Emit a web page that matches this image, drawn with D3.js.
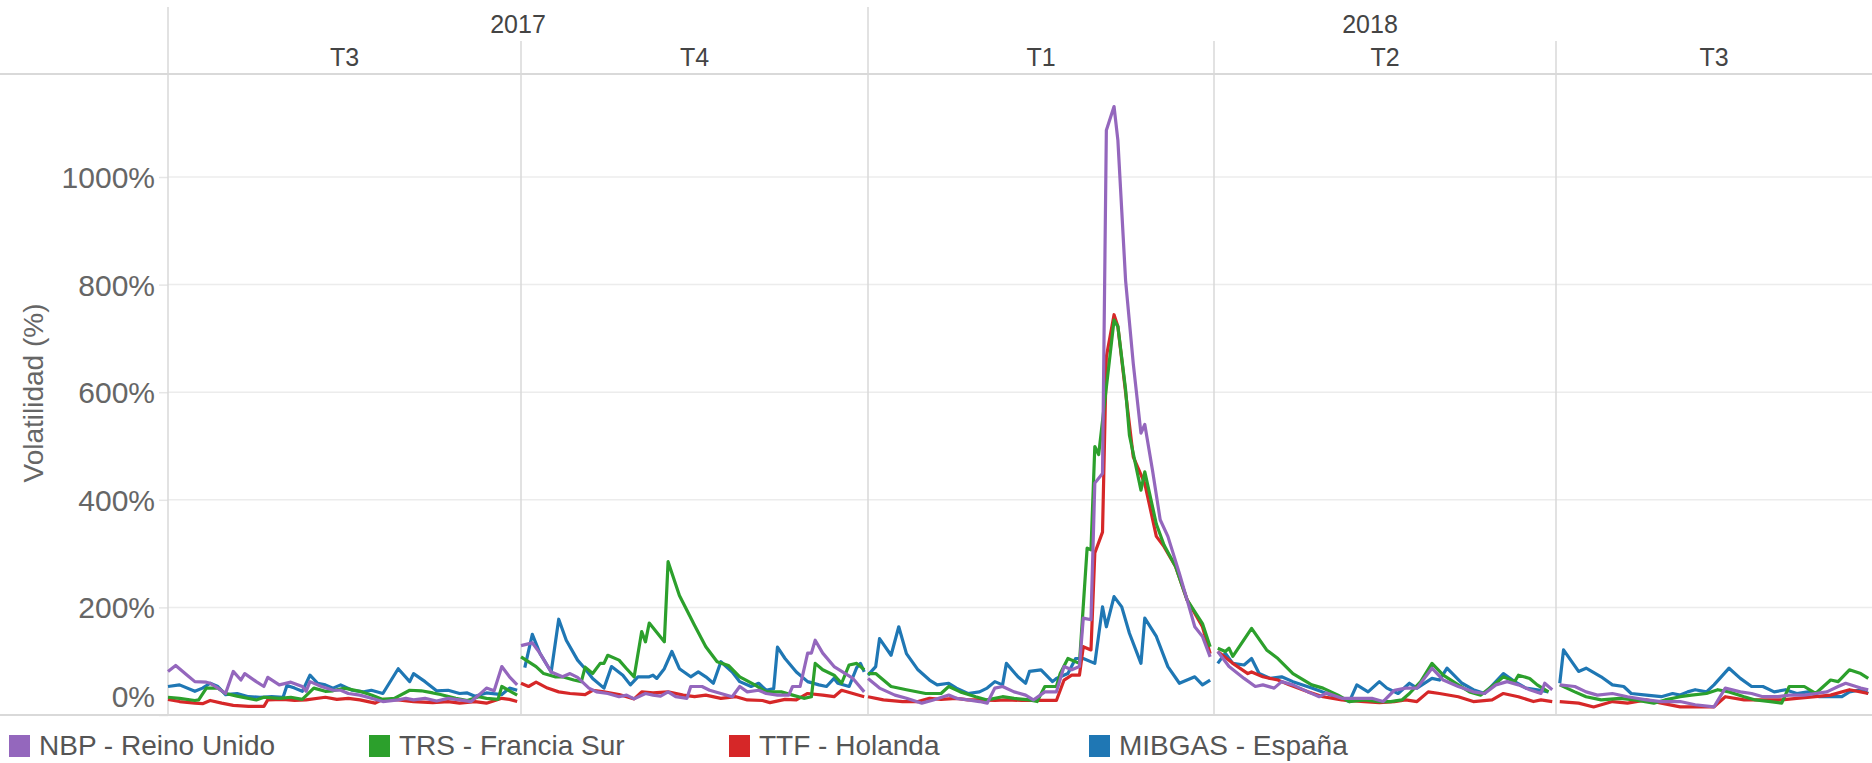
<!DOCTYPE html>
<html>
<head>
<meta charset="utf-8">
<script src="https://cdn.jsdelivr.net/npm/d3@7"></script>
<style>
  body { margin: 0; background: #fff; }
  svg { display: block; }
  text { font-family: "Liberation Sans", Arial, sans-serif; }
</style>
</head>
<body>
<div id="chart"></div>
<script>
// series names, colours and header labels
const seriesNames = ["NBP - Reino Unido", "TRS - Francia Sur", "TTF - Holanda", "MIBGAS - España"];
const seriesColors = ["#9467bd", "#2ca02c", "#d62728", "#1f77b4"];
const years = ["2017", "2018"];
const quarters = ["T3", "T4", "T1", "T2", "T3"];
const quarterStarts = ["2017-07-01", "2017-10-01", "2018-01-01", "2018-04-01", "2018-07-01"];
const lastDay = "2018-09-23";
const yTicks = [0, 200, 400, 600, 800, 1000];

// [days since 1 jul 2017, volatilidad %]
const nbp = [
  [0,81],[2,92],[5,74],[7,62],[10,61],[11,59],[13,50],[15,40],[17,81],[19,65],[20,77],[23,62],[25,53],[26,70],[29,56],[32,61],[35,53],[36,44],[37,62],[40,53],[43,46],[45,46],[47,40],[50,37],[53,31],[56,25],[60,28],[62,31],[64,28],[67,31],[70,26],[73,31],[76,28],[79,25],[81,37],[83,50],[85,45],[87,90],[89,71],[91,56],
  [92,129],[95,134],[97,115],[100,80],[103,71],[105,77],[107,70],[110,50],[112,43],[115,40],[118,34],[120,37],[122,30],[125,40],[127,37],[129,35],[131,43],[133,34],[136,31],[137,53],[140,53],[142,46],[145,40],[148,34],[150,53],[152,43],[155,46],[157,40],[160,37],[163,37],[164,53],[166,53],[168,115],[169,115],[170,139],[172,115],[175,90],[178,77],[180,68],[183,43],
  [184,68],[187,50],[191,37],[194,31],[198,22],[201,28],[205,37],[207,31],[210,28],[213,25],[215,22],[217,50],[219,53],[222,43],[225,37],[227,28],[230,43],[233,43],[235,90],[237,84],[239,90],[240,180],[242,177],[243,431],[245,449],[246,1087],[248,1131],[249,1068],[251,808],[253,653],[255,524],[256,540],[258,455],[260,363],[262,332],[265,263],[267,214],[269,164],[271,146],[273,108],
  [275,118],[278,90],[282,68],[285,53],[287,56],[290,50],[292,62],[295,56],[299,43],[302,34],[304,41],[308,31],[313,31],[316,31],[319,25],[322,46],[325,50],[328,50],[332,87],[335,65],[339,53],[343,43],[346,40],[349,56],[352,62],[355,56],[358,47],[361,40],[362,59],[364,47],
  [366,56],[370,53],[373,43],[376,37],[380,40],[384,34],[389,28],[393,25],[398,25],[402,19],[407,15],[410,50],[414,43],[417,40],[420,34],[424,34],[427,37],[431,37],[434,40],[437,43],[440,53],[442,59],[446,50],[448,47]
];
const trs = [
  [0,33],[3,31],[7,27],[8,28],[10,50],[13,50],[15,40],[18,35],[23,28],[25,33],[29,31],[32,33],[35,29],[38,50],[41,44],[43,45],[46,50],[50,44],[53,37],[56,29],[59,31],[63,46],[66,45],[69,41],[71,38],[75,31],[78,27],[81,34],[83,31],[86,29],[87,53],[89,45],[91,37],
  [92,108],[96,90],[98,77],[101,71],[103,71],[106,65],[108,62],[109,89],[111,77],[113,96],[114,96],[115,111],[118,102],[120,86],[122,71],[124,155],[125,136],[126,171],[130,136],[131,285],[134,222],[138,167],[141,127],[144,99],[147,92],[150,71],[154,56],[157,43],[161,43],[164,37],[167,31],[169,34],[170,96],[172,84],[175,74],[177,59],[179,93],[181,96],[183,84],
  [184,77],[186,77],[190,53],[194,47],[199,40],[203,40],[205,53],[208,43],[212,34],[215,28],[219,34],[222,31],[226,28],[228,25],[230,53],[233,53],[234,77],[236,105],[239,96],[241,310],[242,307],[243,499],[244,484],[248,734],[249,722],[251,605],[252,520],[255,418],[256,452],[259,355],[261,316],[264,276],[267,214],[271,170],[273,127],
  [275,124],[277,118],[278,124],[279,109],[284,161],[288,121],[291,105],[295,77],[300,56],[303,50],[307,37],[310,25],[314,28],[318,25],[321,25],[324,28],[326,40],[329,62],[332,96],[335,74],[339,56],[342,43],[345,37],[349,59],[351,71],[354,62],[355,74],[358,68],[360,56],[363,43],
  [366,56],[370,43],[373,34],[377,28],[382,31],[386,28],[391,22],[394,28],[398,34],[401,37],[405,40],[408,47],[411,43],[415,34],[418,28],[422,25],[425,22],[427,53],[431,53],[434,40],[438,65],[440,62],[443,84],[446,77],[448,68]
];
const ttf = [
  [0,29],[3,25],[7,22],[9,21],[11,27],[14,22],[17,18],[21,16],[25,16],[26,28],[30,29],[33,27],[36,28],[41,33],[44,29],[47,31],[50,28],[54,22],[56,29],[60,28],[64,25],[69,23],[73,25],[76,22],[80,25],[83,22],[87,31],[89,29],[91,25],
  [92,59],[94,53],[96,61],[99,50],[102,43],[105,40],[109,38],[111,46],[114,43],[118,38],[122,30],[124,43],[127,41],[131,43],[135,37],[138,34],[141,37],[145,31],[149,34],[152,28],[156,27],[158,23],[162,29],[165,28],[168,40],[172,37],[175,34],[177,46],[180,40],[183,34],
  [184,34],[188,28],[193,25],[197,25],[200,31],[203,29],[207,31],[210,28],[213,28],[217,27],[220,28],[224,27],[229,27],[233,27],[235,65],[237,74],[239,74],[240,127],[242,121],[243,301],[245,340],[246,666],[248,744],[249,722],[251,600],[253,480],[256,430],[259,332],[261,313],[264,276],[267,214],[271,164],[273,114],
  [275,118],[279,96],[283,77],[284,80],[287,71],[291,65],[294,56],[299,43],[303,34],[308,28],[314,25],[318,23],[322,25],[325,28],[328,25],[331,43],[334,40],[339,34],[343,25],[348,28],[351,40],[355,34],[359,25],[361,28],[364,25],
  [366,25],[371,22],[375,15],[380,25],[384,22],[389,28],[393,22],[398,15],[402,15],[407,15],[410,34],[415,28],[420,28],[425,28],[429,31],[434,34],[438,37],[443,47],[446,43],[448,40]
];
const mibgas = [
  [0,53],[3,56],[7,44],[9,50],[11,59],[13,53],[15,38],[18,40],[21,34],[24,33],[27,34],[30,33],[31,55],[33,50],[35,44],[37,74],[39,59],[41,56],[43,50],[45,56],[48,46],[51,43],[53,46],[56,40],[60,86],[63,62],[64,77],[67,62],[70,45],[73,46],[76,40],[78,41],[80,35],[83,41],[87,38],[89,50],[91,46],
  [93,88],[95,150],[97,115],[100,80],[102,178],[104,139],[107,102],[109,86],[111,68],[114,50],[116,90],[119,74],[121,56],[123,71],[126,71],[127,74],[128,68],[130,86],[132,118],[134,86],[137,71],[139,80],[141,71],[143,59],[145,99],[148,80],[150,62],[153,53],[155,59],[157,46],[159,49],[160,126],[162,105],[165,80],[168,62],[171,56],[173,53],[175,68],[176,59],[179,53],[181,88],[182,96],[183,80],
  [184,74],[186,90],[187,142],[190,111],[192,164],[194,114],[197,84],[200,65],[202,56],[205,59],[207,50],[210,40],[213,43],[215,50],[217,62],[219,56],[220,96],[223,71],[225,59],[226,81],[229,84],[232,62],[233,68],[236,77],[238,105],[240,105],[243,96],[245,201],[246,164],[248,220],[250,201],[252,152],[255,96],[256,180],[259,146],[262,90],[265,59],[269,71],[271,56],[273,65],
  [275,96],[277,115],[279,96],[282,93],[284,105],[286,77],[289,68],[292,71],[295,62],[300,50],[304,40],[310,25],[312,56],[315,43],[318,62],[320,50],[323,40],[326,59],[328,50],[332,68],[334,65],[336,87],[340,59],[343,47],[346,40],[349,62],[351,77],[354,62],[357,50],[360,47],[363,43],
  [366,59],[367,121],[371,81],[373,87],[377,71],[380,56],[383,53],[385,40],[389,37],[393,34],[396,40],[398,37],[400,43],[402,47],[405,43],[407,56],[411,87],[414,68],[417,53],[420,53],[423,43],[426,47],[429,40],[432,43],[435,34],[437,34],[441,34],[443,43],[446,47],[448,40]
];
const seriesData = [nbp, trs, ttf, mibgas];

const W = 1872, H = 763;
const plotTop = 74, plotBottom = 715, plotLeft = 168;
const parse = d3.timeParse("%Y-%m-%d");
const qDates = quarterStarts.map(parse);
const start = qDates[0];

const svg = d3.select("#chart").append("svg")
    .attr("width", W)
    .attr("height", H);

// each quarter is its own pane, so the time scale is piecewise
const x = d3.scaleTime()
    .domain(qDates.concat([parse(lastDay)]))
    .range([plotLeft, 521, 868, 1214, 1556, W]);

const y = d3.scaleLinear()
    .domain([0, 1000])
    .range([plotBottom, 177]);

// gridlines
svg.append("g")
    .selectAll("line")
    .data(yTicks.filter(d => d > 0))
    .enter()
    .append("line")
        .attr("x1", plotLeft)
        .attr("x2", W)
        .attr("y1", d => y(d))
        .attr("y2", d => y(d))
        .attr("stroke", "#ececec")
        .attr("stroke-width", 1.5);

// y axis
const yAxis = svg.append("g")
    .attr("transform", "translate(" + plotLeft + ",0)")
    .call(d3.axisLeft(y).tickValues(yTicks).tickFormat(d => d + "%").tickSize(9).tickPadding(4));
yAxis.select(".domain").remove();
yAxis.selectAll(".tick line").attr("stroke", "#e6e6e6").attr("stroke-width", 1.5);
yAxis.selectAll(".tick text")
    .attr("fill", "#666")
    .attr("font-size", "30px")
    .attr("font-family", "Liberation Sans, Arial, sans-serif")
    .attr("dy", d => d == 0 ? "-0.28em" : "0.35em");

svg.append("text")
    .attr("transform", "translate(33,393) rotate(-90)")
    .attr("text-anchor", "middle")
    .attr("dy", "0.35em")
    .attr("fill", "#666")
    .attr("font-size", "28px")
    .text("Volatilidad (%)");

// header and pane dividers
const bounds = qDates.map(d => x(d));
const yearStarts = [0, 2];
svg.append("g")
    .selectAll("line")
    .data(bounds)
    .enter()
    .append("line")
        .attr("x1", d => d)
        .attr("x2", d => d)
        .attr("y1", (d, i) => yearStarts.includes(i) ? 7 : 41)
        .attr("y2", plotBottom)
        .attr("stroke", "#d9d9d9")
        .attr("stroke-width", 1.5);

[plotTop, plotBottom].forEach(v => {
    svg.append("line")
        .attr("x1", 0).attr("x2", W)
        .attr("y1", v).attr("y2", v)
        .attr("stroke", "#d9d9d9")
        .attr("stroke-width", 2);
});

const yearEdges = [bounds[0], bounds[2], W];
svg.selectAll(".year")
    .data(years)
    .enter()
    .append("text")
        .attr("class", "year")
        .attr("x", (d, i) => (yearEdges[i] + yearEdges[i + 1]) / 2)
        .attr("y", 24)
        .attr("dy", "0.35em")
        .attr("text-anchor", "middle")
        .attr("fill", "#444")
        .attr("font-size", "25px")
        .text(d => d);

const qEdges = bounds.concat([W]);
svg.selectAll(".quarter")
    .data(quarters)
    .enter()
    .append("text")
        .attr("class", "quarter")
        .attr("x", (d, i) => (qEdges[i] + qEdges[i + 1]) / 2)
        .attr("y", 57)
        .attr("dy", "0.35em")
        .attr("text-anchor", "middle")
        .attr("fill", "#444")
        .attr("font-size", "25px")
        .text(d => d);

// lines, broken at every quarter
const line = d3.line()
    .x(d => x(d.date))
    .y(d => y(d.v));

const drawOrder = [3, 2, 1, 0];
drawOrder.forEach(s => {
    const pts = seriesData[s].map(p => ({date: d3.timeDay.offset(start, p[0]), v: p[1]}));
    const groups = d3.groups(pts, p => d3.bisectRight(qDates, p.date) - 1);
    svg.append("g")
        .selectAll("path")
        .data(groups)
        .enter()
        .append("path")
            .attr("fill", "none")
            .attr("stroke", seriesColors[s])
            .attr("stroke-width", 3.2)
            .attr("stroke-linejoin", "round")
            .attr("d", g => line(g[1]));
});

// legend
const legend = svg.selectAll(".legend")
    .data(seriesNames)
    .enter()
    .append("g")
        .attr("class", "legend")
        .attr("transform", (d, i) => "translate(" + (9 + i * 360) + ",735)");
legend.append("rect")
    .attr("width", 21)
    .attr("height", 22)
    .attr("fill", (d, i) => seriesColors[i]);
legend.append("text")
    .attr("x", 30)
    .attr("y", 11)
    .attr("dy", "0.33em")
    .attr("fill", "#555")
    .attr("font-size", "28px")
    .text(d => d);
</script>
</body>
</html>
